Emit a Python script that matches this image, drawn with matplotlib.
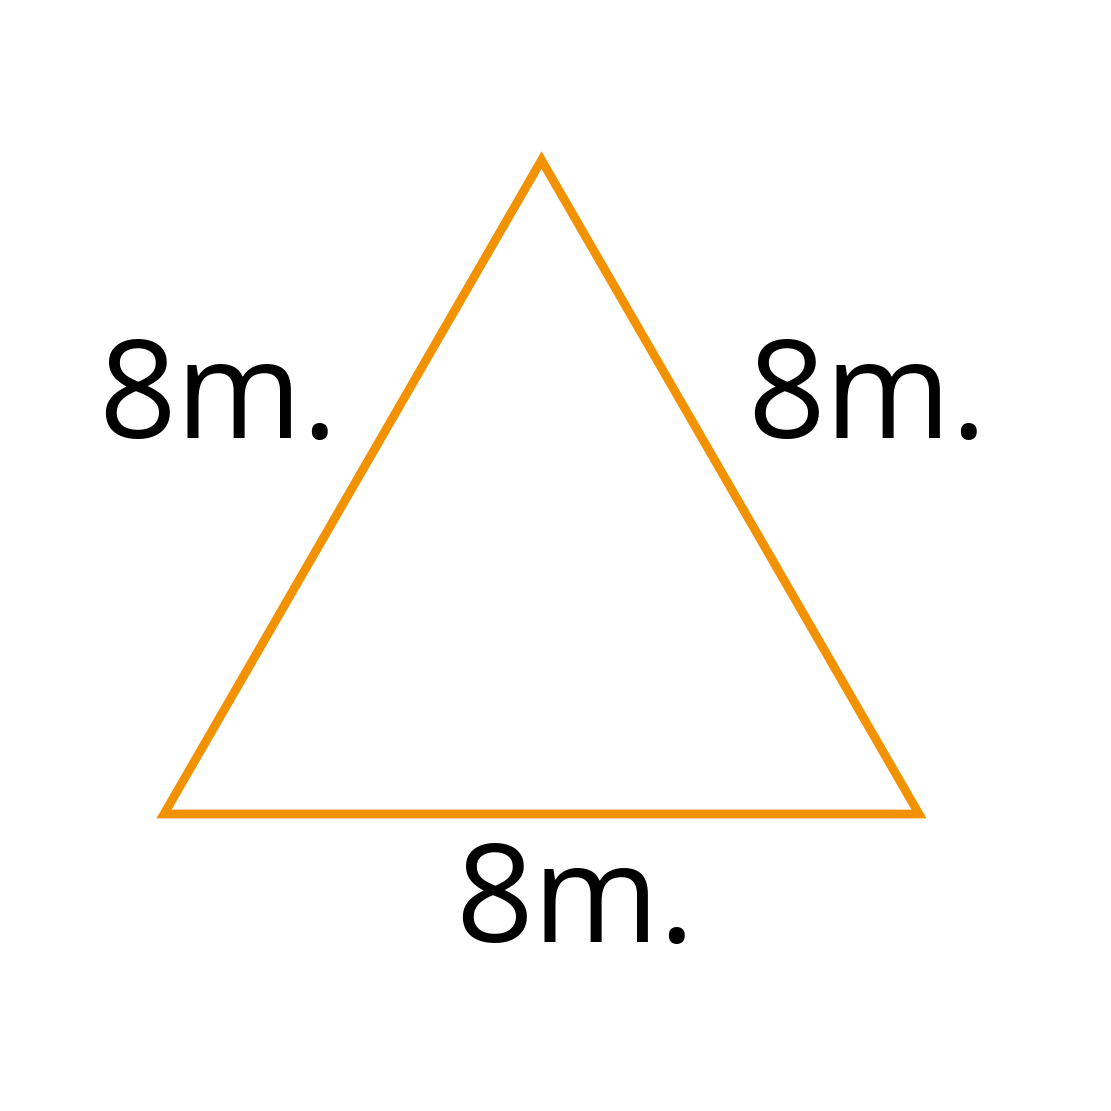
import numpy as np
import matplotlib.pyplot as plt

# side lengths of the triangle (metres) and their labels
sides = [8, 8, 8]
labels = ["8m.", "8m.", "8m."]

COLOR = "#F39200"
PX_PER_M = 755 / 8.0

a, b, c = sides
# vertices from side lengths: base on x axis
A = np.array([0.0, 0.0])
B = np.array([float(c), 0.0])
cx = (b**2 + c**2 - a**2) / (2 * c)
C = np.array([cx, np.sqrt(b**2 - cx**2)])

fig = plt.figure(figsize=(11.11, 11.11), dpi=100)
ax = fig.add_axes([0, 0, 1, 1])
ax.set_xlim(-164 / PX_PER_M, (1111 - 164) / PX_PER_M)
ax.set_ylim(-297 / PX_PER_M, 814 / PX_PER_M)
ax.axis("off")

tri = plt.Polygon([A, B, C], closed=True, fill=False, edgecolor=COLOR,
                  linewidth=6.3, joinstyle="miter")
ax.add_patch(tri)

# label positions: left side, right side, base
pos = [(0.57, 4.36), (7.45, 4.36), (4.35, -0.98)]
for (x, y), t in zip(pos, labels):
    ax.text(x, y, t, fontsize=98, family="Open Sans", ha="center", va="center",
            color="black")

fig.savefig("out.png", dpi=100, facecolor="white")
